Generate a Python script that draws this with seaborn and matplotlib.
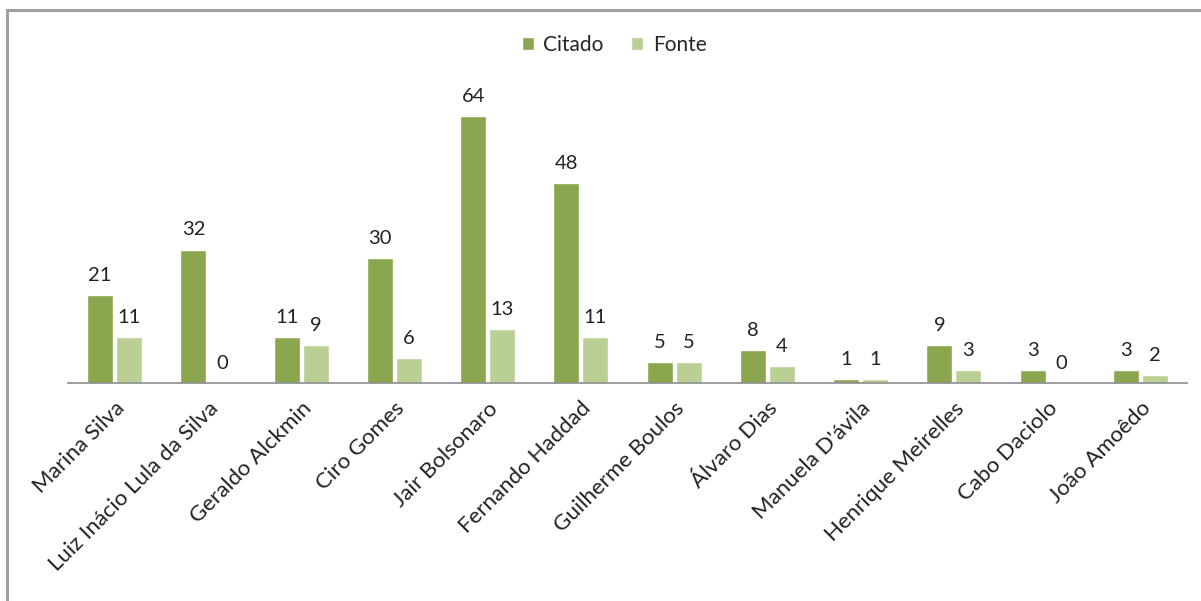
import matplotlib
matplotlib.use("Agg")
import matplotlib.pyplot as plt
from matplotlib.patches import Rectangle
import pandas as pd
import seaborn as sns

candidatos = ["Marina Silva", "Luiz Inácio Lula da Silva", "Geraldo Alckmin", "Ciro Gomes",
              "Jair Bolsonaro", "Fernando Haddad", "Guilherme Boulos", "Álvaro Dias",
              "Manuela D'ávila", "Henrique Meirelles", "Cabo Daciolo", "João Amoêdo"]
citado = [21, 32, 11, 30, 64, 48, 5, 8, 1, 9, 3, 3]
fonte = [11, 0, 9, 6, 13, 11, 5, 4, 1, 3, 0, 2]
series = ["Citado", "Fonte"]
cores = ["#8aa64e", "#b9cf93"]

df = pd.DataFrame({
    "candidato": candidatos * 2,
    "valor": citado + fonte,
    "serie": [series[0]] * len(citado) + [series[1]] * len(fonte),
})

sns.set_style("white")
plt.rcParams["font.family"] = ["Lato", "DejaVu Sans"]

fig = plt.figure(figsize=(12.01, 6.01), dpi=100)
ax = fig.add_axes([68 / 1201, 1 - 383 / 601, (1187 - 68) / 1201, (383 - 91) / 601])

sns.barplot(data=df, x="candidato", y="valor", hue="serie", palette=cores,
            width=0.62, gap=0.1, saturation=1, ax=ax)

for c in ax.containers:
    ax.bar_label(c, fmt="%d", padding=8, fontsize=14.5, color="#222222")

ax.set_ylim(0, 70)
ax.set_xlim(-0.5, len(candidatos) - 0.5)
ax.set_xlabel("")
ax.set_ylabel("")
ax.set_yticks([])
for s in ["top", "right", "left"]:
    ax.spines[s].set_visible(False)
ax.spines["bottom"].set_color("#8c8c8c")
ax.spines["bottom"].set_linewidth(1.2)
ax.tick_params(axis="x", length=0, pad=11)
plt.setp(ax.get_xticklabels(), rotation=45, ha="right", rotation_mode="anchor",
         fontsize=16, color="#222222")

ax.legend(loc="center", bbox_to_anchor=(614 / 1201, 1 - 45 / 601), bbox_transform=fig.transFigure,
          ncol=2, frameon=False, fontsize=15, handlelength=0.6, handleheight=0.6,
          handletextpad=0.45, columnspacing=1.3)

fig.patches.append(Rectangle((7 / 1201, -0.1), 1.2, 1.1 - 10 / 601, transform=fig.transFigure,
                             fill=False, edgecolor="#a0a0a0", linewidth=2.2))

fig.savefig("out.png", dpi=100)
